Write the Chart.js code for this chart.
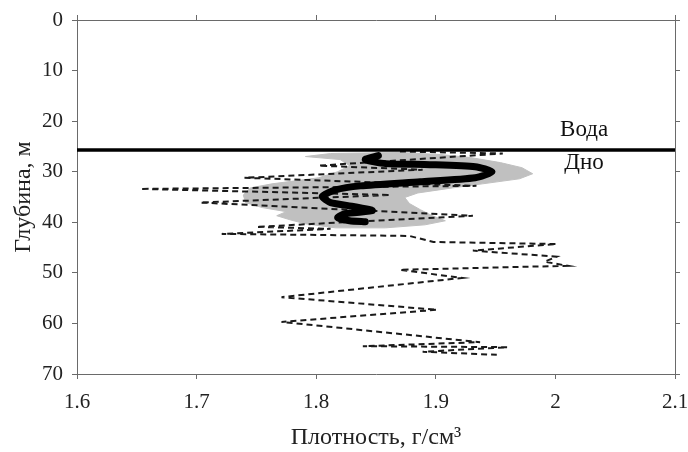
<!DOCTYPE html>
<html>
<head>
<meta charset="utf-8">
<title>Плотность по глубине</title>
<script src="https://cdn.jsdelivr.net/npm/chart.js@4.4.0/dist/chart.umd.min.js"></script>
<style>
  html, body { margin: 0; padding: 0; background: #fff; }
  #wrap { width: 688px; height: 452px; }
</style>
</head>
<body>
<div id="wrap"><canvas id="densityChart" width="688" height="452"></canvas></div>
<script>
// Individual profile (dashed), density g/cm3 vs depth m
const profileDensity = [1.870, 1.956, 1.802, 1.889, 1.740, 1.934, 1.653, 1.862, 1.703, 1.931,
  1.750, 1.812, 1.721, 1.878, 1.898, 2.001, 1.931, 2.001, 1.991, 2.010,
  1.870, 1.922, 1.771, 1.901, 1.771, 1.937, 1.839, 1.960, 1.889, 1.951];
const profileDepth = [26.0, 26.4, 28.8, 29.6, 31.2, 32.8, 33.4, 34.6, 36.1, 38.7,
  40.9, 41.3, 42.3, 42.7, 43.9, 44.3, 45.6, 46.8, 47.8, 48.6,
  49.4, 51.0, 54.8, 57.3, 59.7, 63.7, 64.5, 64.7, 65.6, 66.2];

// Averaged profile (thick black)
const meanDensity = [1.852, 1.841, 1.858, 1.895, 1.933, 1.947, 1.933, 1.887, 1.837, 1.816,
  1.805, 1.812, 1.832, 1.847, 1.824, 1.818, 1.828, 1.841];
const meanDepth = [26.8, 27.6, 28.4, 28.6, 29.0, 30.0, 31.2, 32.0, 32.8, 33.6,
  34.9, 36.1, 36.9, 37.7, 38.3, 39.1, 39.7, 39.9];

// Spread envelope (gray): left edge going down, right edge coming back up
const rangeDensity = [1.812, 1.791, 1.820, 1.828, 1.818, 1.802, 1.763, 1.745, 1.739, 1.741,
  1.755, 1.775, 1.767, 1.778, 1.791, 1.816,
  1.858, 1.891, 1.908, 1.897, 1.887, 1.878, 1.874, 1.885, 1.914, 1.939,
  1.970, 1.981, 1.972, 1.954, 1.929, 1.904, 1.870, 1.812];
const rangeDepth = [26.4, 27.0, 27.6, 28.8, 30.0, 31.2, 32.4, 33.2, 34.6, 36.1,
  37.1, 37.9, 38.7, 39.5, 40.3, 41.1,
  41.1, 40.5, 39.7, 38.7, 37.5, 36.3, 35.1, 34.2, 33.2, 32.4,
  31.4, 30.4, 29.2, 28.2, 27.2, 26.6, 26.2, 26.4];

// Water / sediment boundary
const bottomDepth = 25.7;
const layerLabels = ['Вода', 'Дно'];
const layerLabelDepths = [21.7, 28.2];
const layerLabelDensity = 2.024;

// Axes
const xMin = 1.6, xMax = 2.1;
const xTickLabels = ['1.6', '1.7', '1.8', '1.9', '2', '2.1'];
const yMin = 0, yMax = 70;

const SERIF = "'Liberation Serif', 'Times New Roman', serif";
Chart.defaults.font.family = SERIF;
Chart.defaults.color = '#222';

function toPoints(xs, ys) {
  return xs.map((v, i) => ({ x: v, y: ys[i] }));
}

// Draws the layer names next to the boundary line
const layerLabelPlugin = {
  id: 'layerLabels',
  afterDatasetsDraw(chart) {
    const { ctx, scales } = chart;
    ctx.save();
    ctx.font = '23px ' + SERIF;
    ctx.fillStyle = '#111';
    ctx.textAlign = 'center';
    ctx.textBaseline = 'middle';
    layerLabels.forEach((text, i) => {
      ctx.fillText(text, scales.x.getPixelForValue(layerLabelDensity),
        scales.y.getPixelForValue(layerLabelDepths[i]));
    });
    ctx.restore();
  }
};

const axisColor = '#6a6a6a';
const tickGrid = { drawOnChartArea: false, drawTicks: true, tickLength: 5, color: axisColor, lineWidth: 1 };
const axisBorder = { display: true, color: axisColor, width: 1 };

const ctx = document.getElementById('densityChart').getContext('2d');
new Chart(ctx, {
  type: 'scatter',
  data: {
    datasets: [
      {
        label: 'boundary',
        data: [{ x: xMin, y: bottomDepth }, { x: xMax, y: bottomDepth }],
        showLine: true,
        borderColor: '#000',
        borderWidth: 3.5,
        pointRadius: 0,
        order: 0
      },
      {
        label: 'mean',
        data: toPoints(meanDensity, meanDepth),
        showLine: true,
        borderColor: '#000',
        borderWidth: 7,
        borderJoinStyle: 'round',
        borderCapStyle: 'round',
        tension: 0.2,
        pointRadius: 0,
        order: 1
      },
      {
        label: 'profile',
        data: toPoints(profileDensity, profileDepth),
        showLine: true,
        borderColor: '#1a1a1a',
        borderWidth: 2,
        borderDash: [6, 4],
        pointRadius: 0,
        order: 2
      },
      {
        label: 'range',
        data: toPoints(rangeDensity, rangeDepth),
        showLine: true,
        fill: 'shape',
        backgroundColor: '#c0c0c0',
        borderColor: '#c0c0c0',
        borderWidth: 1,
        pointRadius: 0,
        order: 3
      }
    ]
  },
  options: {
    responsive: false,
    animation: false,
    layout: { padding: { top: 20, right: 13, left: 0, bottom: 0 } },
    plugins: {
      legend: { display: false },
      tooltip: { enabled: false }
    },
    scales: {
      x: {
        type: 'linear',
        position: 'bottom',
        min: xMin,
        max: xMax,
        grid: tickGrid,
        border: axisBorder,
        ticks: {
          stepSize: 0.1,
          padding: 11,
          font: { size: 21 },
          color: '#222',
          callback: (value, index) => xTickLabels[index]
        },
        title: {
          display: true,
          text: 'Плотность, г/см³',
          font: { size: 24 },
          color: '#222',
          padding: { top: 0, bottom: 0 }
        },
        afterFit: (scale) => {
          scale.height = 78;
          scale.paddingLeft = 0;
          scale.paddingRight = 0;
        }
      },
      y: {
        type: 'linear',
        position: 'left',
        reverse: true,
        min: yMin,
        max: yMax,
        grid: tickGrid,
        border: axisBorder,
        ticks: {
          stepSize: 10,
          padding: 9,
          font: { size: 21 },
          color: '#222'
        },
        title: {
          display: true,
          text: 'Глубина, м',
          font: { size: 24 },
          color: '#222',
          padding: { top: 9, bottom: 0 }
        },
        afterFit: (scale) => {
          scale.width = 77;
          scale.paddingTop = 0;
          scale.paddingBottom = 0;
        }
      },
      xTop: {
        type: 'linear',
        position: 'top',
        min: xMin,
        max: xMax,
        grid: tickGrid,
        border: axisBorder,
        ticks: { stepSize: 0.1, display: false },
        afterFit: (scale) => { scale.height = 0; }
      },
      yRight: {
        type: 'linear',
        position: 'right',
        reverse: true,
        min: yMin,
        max: yMax,
        grid: tickGrid,
        border: axisBorder,
        ticks: { stepSize: 10, display: false },
        afterFit: (scale) => { scale.width = 0; }
      }
    }
  },
  plugins: [layerLabelPlugin]
});
</script>
</body>
</html>
